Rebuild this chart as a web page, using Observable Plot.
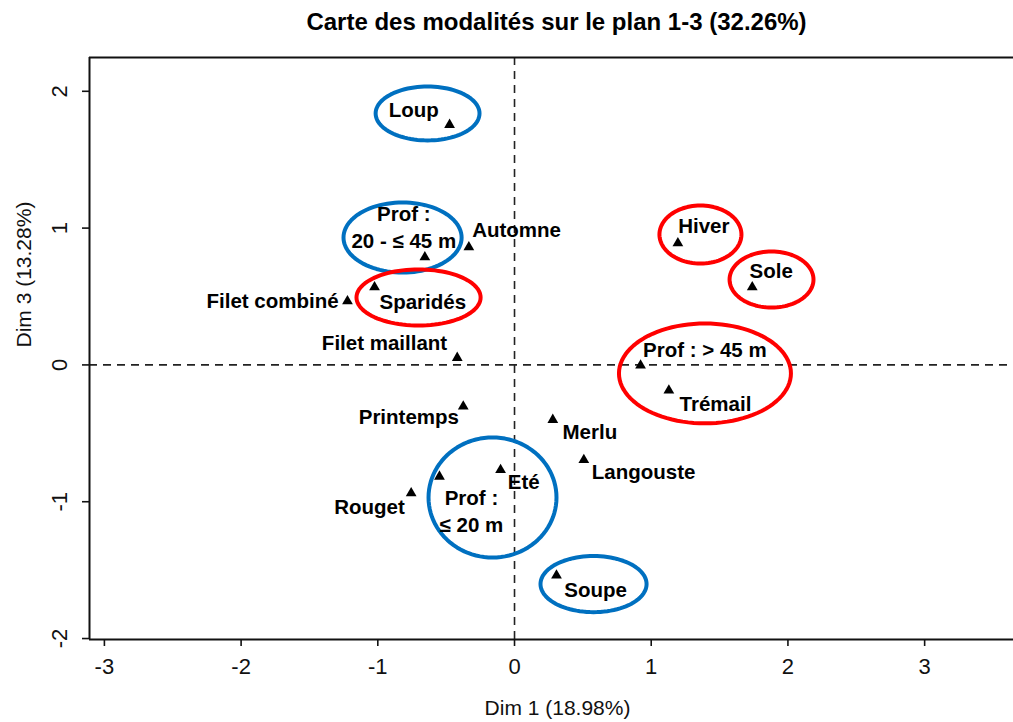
<!DOCTYPE html>
<html><head><meta charset="utf-8">
<script src="https://cdn.jsdelivr.net/npm/d3@7"></script>
<script src="https://cdn.jsdelivr.net/npm/@observablehq/plot@0.6"></script>
<style>body{margin:0;background:#fff} svg{display:block}</style>
</head><body><div id="chart"></div>
<script>
// Modalités : coordonnées sur Dim 1 et Dim 3
const modalites = ["Loup","Prof : 20 - ≤ 45 m","Automne","Sparidés","Filet combiné","Hiver","Sole","Prof : > 45 m","Trémail","Filet maillant","Printemps","Merlu","Langouste","Prof : ≤ 20 m","Eté","Rouget","Soupe"];
const dim1 = [-0.475,-0.656,-0.334,-1.024,-1.222,1.195,1.739,0.922,1.129,-0.419,-0.375,0.280,0.507,-0.549,-0.102,-0.756,0.307];
const dim3 = [1.755,0.787,0.860,0.568,0.466,0.890,0.568,-0.004,-0.187,0.052,-0.304,-0.401,-0.694,-0.816,-0.767,-0.938,-1.539];

// Étiquettes (texte et emplacement en unités des axes)
const labelText = ["Loup","Prof :\n20 - ≤ 45 m","Automne","Sparidés","Filet combiné","Hiver","Sole","Prof : > 45 m","Trémail","Filet maillant","Printemps","Merlu","Langouste","Prof :\n≤ 20 m","Eté","Rouget","Soupe"];
const labelX = [-0.737,-0.810,0.015,-0.671,-1.770,1.385,1.878,1.392,1.470,-0.951,-0.773,0.551,0.944,-0.315,0.068,-1.061,0.593];
const labelY = [1.847,0.988,0.970,0.439,0.449,0.995,0.666,0.093,-0.304,0.142,-0.401,-0.509,-0.803,-1.091,-0.874,-1.059,-1.662];

// Groupes entourés (ellipses)
const groupes = ["Loup","Prof 20-45","Sparidés","Hiver","Sole","Prof >45","Prof ≤20","Soupe"];
const groupeCouleur = ["bleu","bleu","rouge","rouge","rouge","rouge","bleu","bleu"];
const ellCx = [-0.636,-0.819,-0.702,1.360,1.880,1.393,-0.161,0.578];
const ellCy = [1.838,0.931,0.493,0.953,0.624,-0.062,-0.969,-1.602];
const ellRx = [0.380,0.432,0.454,0.300,0.307,0.629,0.468,0.388];
const ellRy = [0.197,0.256,0.205,0.212,0.205,0.365,0.439,0.205];

const xTicks = [-3,-2,-1,0,1,2,3];
const yTicks = [-2,-1,0,1,2];
const xDomain = [-3.109, 3.650];
const yDomain = [-2.007, 2.247];

const titre = "Carte des modalités sur le plan 1-3 (32.26%)";
const xTitre = "Dim 1 (18.98%)";
const yTitre = "Dim 3 (13.28%)";

const points = modalites.map((m, i) => ({m, x: dim1[i], y: dim3[i]}));
const labels = labelText.map((t, i) => ({t, x: labelX[i], y: labelY[i]}));
const ellPts = [];
groupes.forEach((g, i) => {
  const n = 96;
  for (let k = 0; k < n; k++) {
    const a = 2 * Math.PI * k / n;
    ellPts.push({g, c: groupeCouleur[i], x: ellCx[i] + ellRx[i] * Math.cos(a), y: ellCy[i] + ellRy[i] * Math.sin(a)});
  }
});

const font = "'Liberation Sans', Arial, sans-serif";
const fmt = d => String(d);
const chart = Plot.plot({
  width: 1013,
  height: 722,
  marginTop: 57,
  marginBottom: 83,
  marginLeft: 89,
  marginRight: 0,
  style: {fontFamily: font, color: "#111", background: "#fff", overflow: "visible"},
  x: {domain: xDomain, axis: null},
  y: {domain: yDomain, axis: null},
  color: {domain: ["bleu","rouge"], range: ["#0070C0","#FF0000"]},
  marks: [
    Plot.ruleX([0], {stroke: "#222", strokeWidth: 1.6, strokeDasharray: "8,6"}),
    Plot.ruleY([0], {stroke: "#222", strokeWidth: 1.6, strokeDasharray: "8,6"}),
    Plot.ruleX([xDomain[0]], {stroke: "#111", strokeWidth: 2}),
    Plot.ruleY(yDomain, {stroke: "#111", strokeWidth: 2}),
    Plot.axisX(xTicks, {anchor: "bottom", tickSize: 7, tickPadding: 12, fontSize: 22, label: null, strokeWidth: 1.6, tickFormat: fmt}),
    Plot.axisY(yTicks, {anchor: "left", tickSize: 7, tickPadding: 16, tickRotate: -90, fontSize: 22, label: null, strokeWidth: 1.6, tickFormat: fmt}),
    Plot.line(ellPts, {x: "x", y: "y", z: "g", stroke: "c", strokeWidth: 4, curve: "linear-closed"}),
    Plot.dot(points, {x: "x", y: "y", symbol: "triangle", r: 4, fill: "black", stroke: "none"}),
    Plot.text(labels, {x: "x", y: "y", text: "t", dy: -4, fontSize: 20.5, fontWeight: "bold", lineHeight: 1.3, fill: "black"}),
    Plot.text([titre], {text: d => d, frameAnchor: "top", dy: -45, dx: 5, fontSize: 24, fontWeight: "bold", fill: "black"}),
    Plot.text([xTitre], {text: d => d, frameAnchor: "bottom", dy: 75, dx: 6, fontSize: 21, fill: "#111"}),
    Plot.text([yTitre], {text: d => d, frameAnchor: "left", dx: -65, dy: -1, rotate: -90, fontSize: 21, fill: "#111"})
  ]
});
document.getElementById("chart").appendChild(chart);
</script>
</body></html>
